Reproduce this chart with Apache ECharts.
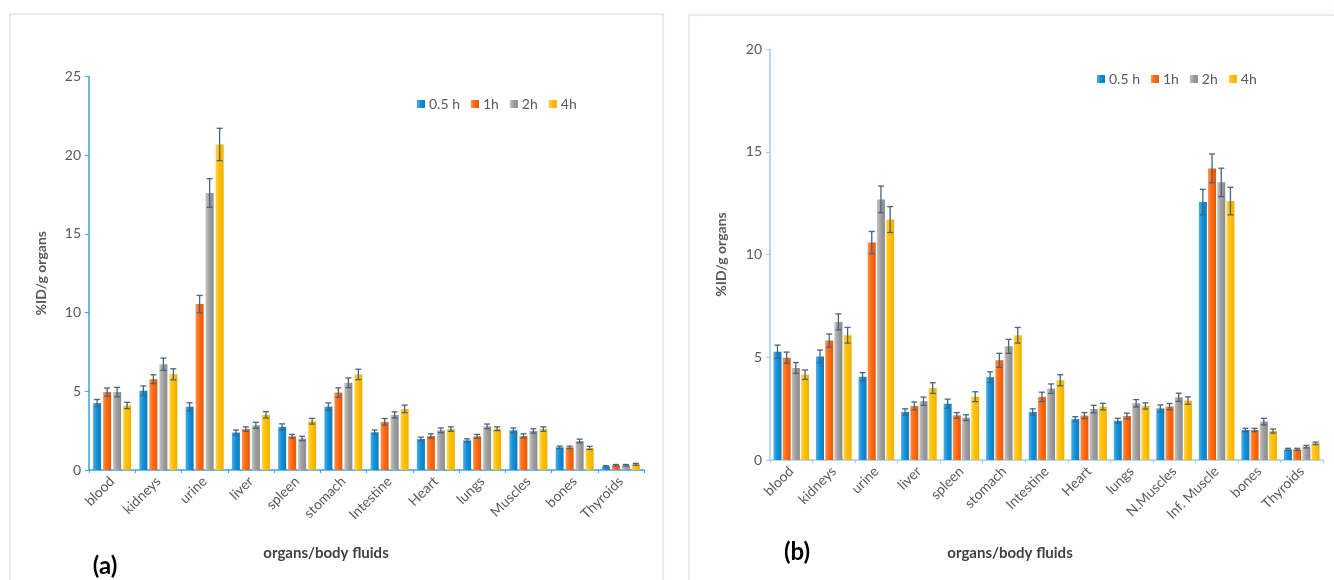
<!DOCTYPE html>
<html>
<head>
<meta charset="utf-8">
<script src="https://cdn.jsdelivr.net/npm/echarts@6/dist/echarts.min.js"></script>
<style>html,body{margin:0;padding:0;background:#fff;}#c{width:1334px;height:580px;}</style>
</head>
<body>
<div id="c"></div>
<script>
const categoriesA = ['blood','kidneys','urine','liver','spleen','stomach','Intestine','Heart','lungs','Muscles','bones','Thyroids'];
const categoriesB = ['blood','kidneys','urine','liver','spleen','stomach','Intestine','Heart','lungs','N.Muscles','Inf. Muscle','bones','Thyroids'];
const seriesNames = ['0.5 h','1h','2h','4h'];
const yTicksA = [0,5,10,15,20,25];
const yTicksB = [0,5,10,15,20];

const a05 = [4.25,5.04,4.02,2.38,2.74,4.03,2.40,1.97,1.88,2.52,1.44,0.23];
const a1  = [4.95,5.77,10.54,2.60,2.14,4.92,3.06,2.16,2.14,2.16,1.44,0.30];
const a2  = [4.95,6.72,17.60,2.84,2.00,5.54,3.50,2.52,2.77,2.48,1.84,0.30];
const a4  = [4.10,6.08,20.68,3.51,3.10,6.07,3.88,2.60,2.62,2.60,1.40,0.36];
const aErr05 = [0.23,0.30,0.25,0.16,0.19,0.23,0.14,0.12,0.10,0.15,0.08,0.05];
const aErr1  = [0.26,0.28,0.55,0.14,0.12,0.30,0.21,0.14,0.12,0.14,0.08,0.05];
const aErr2  = [0.30,0.39,0.91,0.19,0.14,0.31,0.19,0.15,0.15,0.14,0.12,0.05];
const aErr4  = [0.20,0.35,1.03,0.20,0.18,0.33,0.24,0.14,0.12,0.14,0.10,0.06];

const b05 = [5.27,5.04,4.05,2.34,2.74,4.03,2.34,1.99,1.91,2.51,12.55,1.46,0.52];
const b1  = [4.98,5.81,10.58,2.63,2.17,4.85,3.07,2.16,2.14,2.60,14.19,1.46,0.52];
const b2  = [4.48,6.72,12.68,2.86,2.06,5.53,3.47,2.48,2.76,3.05,13.51,1.87,0.65];
const b4  = [4.15,6.07,11.70,3.50,3.08,6.07,3.88,2.60,2.63,2.89,12.60,1.41,0.81];
const bErr05 = [0.32,0.31,0.20,0.15,0.22,0.26,0.15,0.12,0.12,0.17,0.62,0.08,0.05];
const bErr1  = [0.27,0.32,0.54,0.19,0.14,0.34,0.23,0.15,0.14,0.15,0.70,0.08,0.05];
const bErr2  = [0.26,0.39,0.65,0.20,0.14,0.34,0.23,0.18,0.18,0.20,0.69,0.16,0.06];
const bErr4  = [0.23,0.38,0.63,0.26,0.24,0.38,0.27,0.16,0.15,0.18,0.67,0.10,0.06];

const palette = [
  ['#4ab0ea','#1590d6','#0b7cc0'],
  ['#ff9350','#ff6a12','#e85a05'],
  ['#c4c4c4','#a0a0a0','#8a8a8a'],
  ['#ffd34d','#ffc000','#f0b000']
];
const grad = p => new echarts.graphic.LinearGradient(0,0,1,0,[{offset:0,color:p[0]},{offset:0.45,color:p[1]},{offset:1,color:p[2]}]);

const FONT = 'Lato, "Open Sans", sans-serif';
const valsA = [a05,a1,a2,a4], errsA = [aErr05,aErr1,aErr2,aErr4];
const valsB = [b05,b1,b2,b4], errsB = [bErr05,bErr1,bErr2,bErr4];
const BW = 8, GAPA = 2, GAPB = 1.2;

function errData(vals, errs){
  const d = [];
  vals.forEach((arr,s)=>arr.forEach((v,i)=>d.push([i,s,v,errs[s][i]])));
  return d;
}
function errRender(gap){
  return function(params, api){
    const i = api.value(0), s = api.value(1), v = api.value(2), e = api.value(3);
    const c = api.coord([i, v]);
    const x = c[0] + (s - 1.5) * (BW + gap);
    const yHi = api.coord([i, v + e])[1];
    const yLo = api.coord([i, v - e])[1];
    const cap = 3;
    const st = {stroke:'#47637f', lineWidth:1.3};
    return {type:'group', children:[
      {type:'line', shape:{x1:x,y1:yHi,x2:x,y2:yLo}, style:st},
      {type:'line', shape:{x1:x-cap,y1:yHi,x2:x+cap,y2:yHi}, style:st},
      {type:'line', shape:{x1:x-cap,y1:yLo,x2:x+cap,y2:yLo}, style:st}
    ]};
  };
}

const series = [];
valsA.forEach((arr,s)=>series.push({name:seriesNames[s], type:'bar', xAxisIndex:0, yAxisIndex:0, data:arr, barWidth:BW, barGap:'25%', itemStyle:{color:grad(palette[s])}}));
valsB.forEach((arr,s)=>series.push({name:seriesNames[s], type:'bar', xAxisIndex:1, yAxisIndex:1, data:arr, barWidth:BW, barGap:'15%', itemStyle:{color:grad(palette[s])}}));
series.push({type:'custom', xAxisIndex:0, yAxisIndex:0, data:errData(valsA,errsA), renderItem:errRender(GAPA), z:10, silent:true});
series.push({type:'custom', xAxisIndex:1, yAxisIndex:1, data:errData(valsB,errsB), renderItem:errRender(GAPB), z:10, silent:true});

const axisText = {color:'#595959', fontFamily:FONT};
function xAx(cats, grid, lineColor){
  return {type:'category', gridIndex:grid, data:cats, boundaryGap:true,
    axisLine:{lineStyle:{color:lineColor, width:1.5}},
    axisTick:{show:true, length:3, lineStyle:{color:lineColor}},
    axisLabel:Object.assign({interval:0, rotate:45, fontSize:14, margin:9}, axisText)};
}
function yAx(ticks, grid, lineColor, gap){
  return {type:'value', gridIndex:grid, min:ticks[0], max:ticks[ticks.length-1], interval:ticks[1]-ticks[0],
    name:'%ID/g organs', nameLocation:'middle', nameGap:gap,
    nameTextStyle:{color:'#595959', fontFamily:FONT, fontSize:14, fontWeight:'bold'},
    axisLine:{show:true, lineStyle:{color:lineColor, width:1.5}},
    axisTick:{show:true, length:4, lineStyle:{color:lineColor}},
    splitLine:{show:false},
    axisLabel:Object.assign({fontSize:14, margin:8}, axisText)};
}

const legendCommon = {data:seriesNames, orient:'horizontal', itemWidth:8, itemHeight:8, itemGap:11, icon:'rect',
  textStyle:{color:'#595959', fontFamily:FONT, fontSize:14, padding:[0,0,0,-1]}};

const chart = echarts.init(document.getElementById('c'), null, {renderer:'canvas'});
chart.setOption({
  backgroundColor:'#fff',
  animation:false,
  grid:[
    {left:89, top:76.5, width:555, height:393.5},
    {left:770, top:49, width:553, height:411}
  ],
  legend:[
    Object.assign({left:412, top:92}, legendCommon),
    Object.assign({left:1092, top:67}, legendCommon)
  ],
  xAxis:[xAx(categoriesA,0,'#3fa2e3'), xAx(categoriesB,1,'#9fcbee')],
  yAxis:[yAx(yTicksA,0,'#3fa2e3',41), yAx(yTicksB,1,'#9fcbee',42)],
  series:series,
  graphic:[
    {type:'rect', shape:{x:10,y:14,width:653,height:600}, style:{fill:'none', stroke:'#dfe6ee', lineWidth:1.5}, silent:true, z:-1},
    {type:'rect', shape:{x:689,y:15,width:700,height:600}, style:{fill:'none', stroke:'#dfe6ee', lineWidth:1.5}, silent:true, z:-1},
    {type:'text', x:326, y:553, style:{text:'organs/body fluids', fill:'#404040', font:'bold 15px '+FONT, textAlign:'center', textVerticalAlign:'middle'}},
    {type:'text', x:1010, y:553, style:{text:'organs/body fluids', fill:'#404040', font:'bold 15px '+FONT, textAlign:'center', textVerticalAlign:'middle'}},
    {type:'text', x:105, y:566, style:{text:'(a)', fill:'#000', font:'bold 24px '+FONT, textAlign:'center', textVerticalAlign:'middle'}},
    {type:'text', x:797, y:552, style:{text:'(b)', fill:'#000', font:'bold 24px '+FONT, textAlign:'center', textVerticalAlign:'middle'}}
  ]
});
</script>
</body>
</html>
